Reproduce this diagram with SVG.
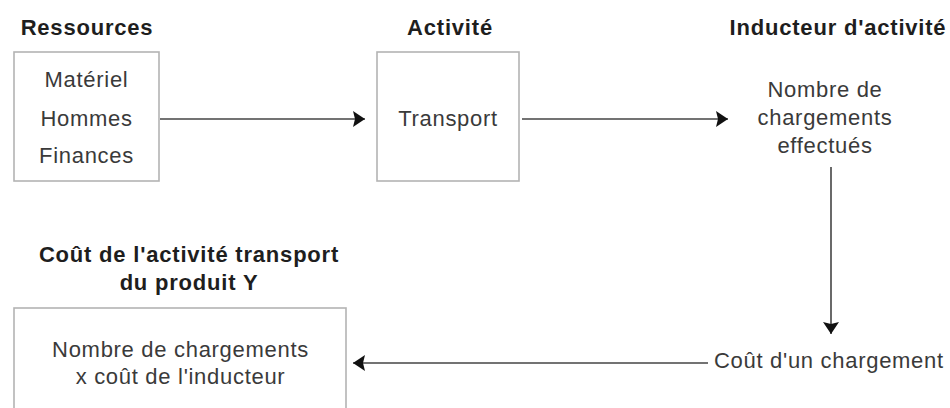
<svg xmlns="http://www.w3.org/2000/svg" width="950" height="408" viewBox="0 0 950 408">
  <defs>
    <marker id="arrow" markerUnits="userSpaceOnUse" markerWidth="14" markerHeight="18" refX="12" refY="8" orient="auto">
      <path d="M0,0 L12,8 L0,16 L2,8 z" fill="#111"/>
    </marker>
    <style>
      .box { fill: #fff; stroke: #b3b3b3; stroke-width: 1.6; }
      .hdr { font-family: "Liberation Sans", Arial, sans-serif; font-weight: bold; font-size: 22px; letter-spacing: 0.8px; fill: #1e1e1e; }
      .txt { font-family: "Liberation Sans", Arial, sans-serif; font-size: 22px; letter-spacing: 0.7px; fill: #3a3a3a; }
      .conn { fill: none; stroke: #444; stroke-width: 1.6; marker-end: url(#arrow); }
    </style>
  </defs>
  <rect width="950" height="408" fill="#fff"/>

  <g id="ressources">
    <text class="hdr" x="87" y="35" text-anchor="middle">Ressources</text>
    <rect class="box" x="14" y="52" width="145" height="129"/>
    <text class="txt" x="86.5" y="87" text-anchor="middle">Matériel</text>
    <text class="txt" x="86.5" y="126" text-anchor="middle">Hommes</text>
    <text class="txt" x="86.5" y="163" text-anchor="middle">Finances</text>
  </g>

  <g id="activite">
    <text class="hdr" x="450" y="35" text-anchor="middle">Activité</text>
    <rect class="box" x="377" y="52" width="142" height="129"/>
    <text class="txt" x="448" y="126" text-anchor="middle">Transport</text>
  </g>

  <g id="inducteur">
    <text class="hdr" x="838" y="35" text-anchor="middle">Inducteur d'activité</text>
    <text class="txt" x="825" y="97" text-anchor="middle">Nombre de</text>
    <text class="txt" x="825" y="125" text-anchor="middle">chargements</text>
    <text class="txt" x="825" y="153" text-anchor="middle">effectués</text>
  </g>

  <g id="cout-chargement">
    <text class="txt" x="714" y="368">Coût d'un chargement</text>
  </g>

  <g id="cout-activite">
    <text class="hdr" x="189" y="262" text-anchor="middle">Coût de l'activité transport</text>
    <text class="hdr" x="189" y="290" text-anchor="middle">du produit Y</text>
    <rect class="box" x="14" y="308" width="332" height="110"/>
    <text class="txt" x="180.5" y="357" text-anchor="middle">Nombre de chargements</text>
    <text class="txt" x="180.5" y="384" text-anchor="middle">x coût de l'inducteur</text>
  </g>

  <g id="connectors">
    <line class="conn" x1="160" y1="119" x2="365" y2="119"/>
    <line class="conn" x1="522" y1="119" x2="728" y2="119"/>
    <line class="conn" x1="831" y1="167" x2="831" y2="334"/>
    <line class="conn" x1="708" y1="363" x2="353" y2="363"/>
  </g>
</svg>
